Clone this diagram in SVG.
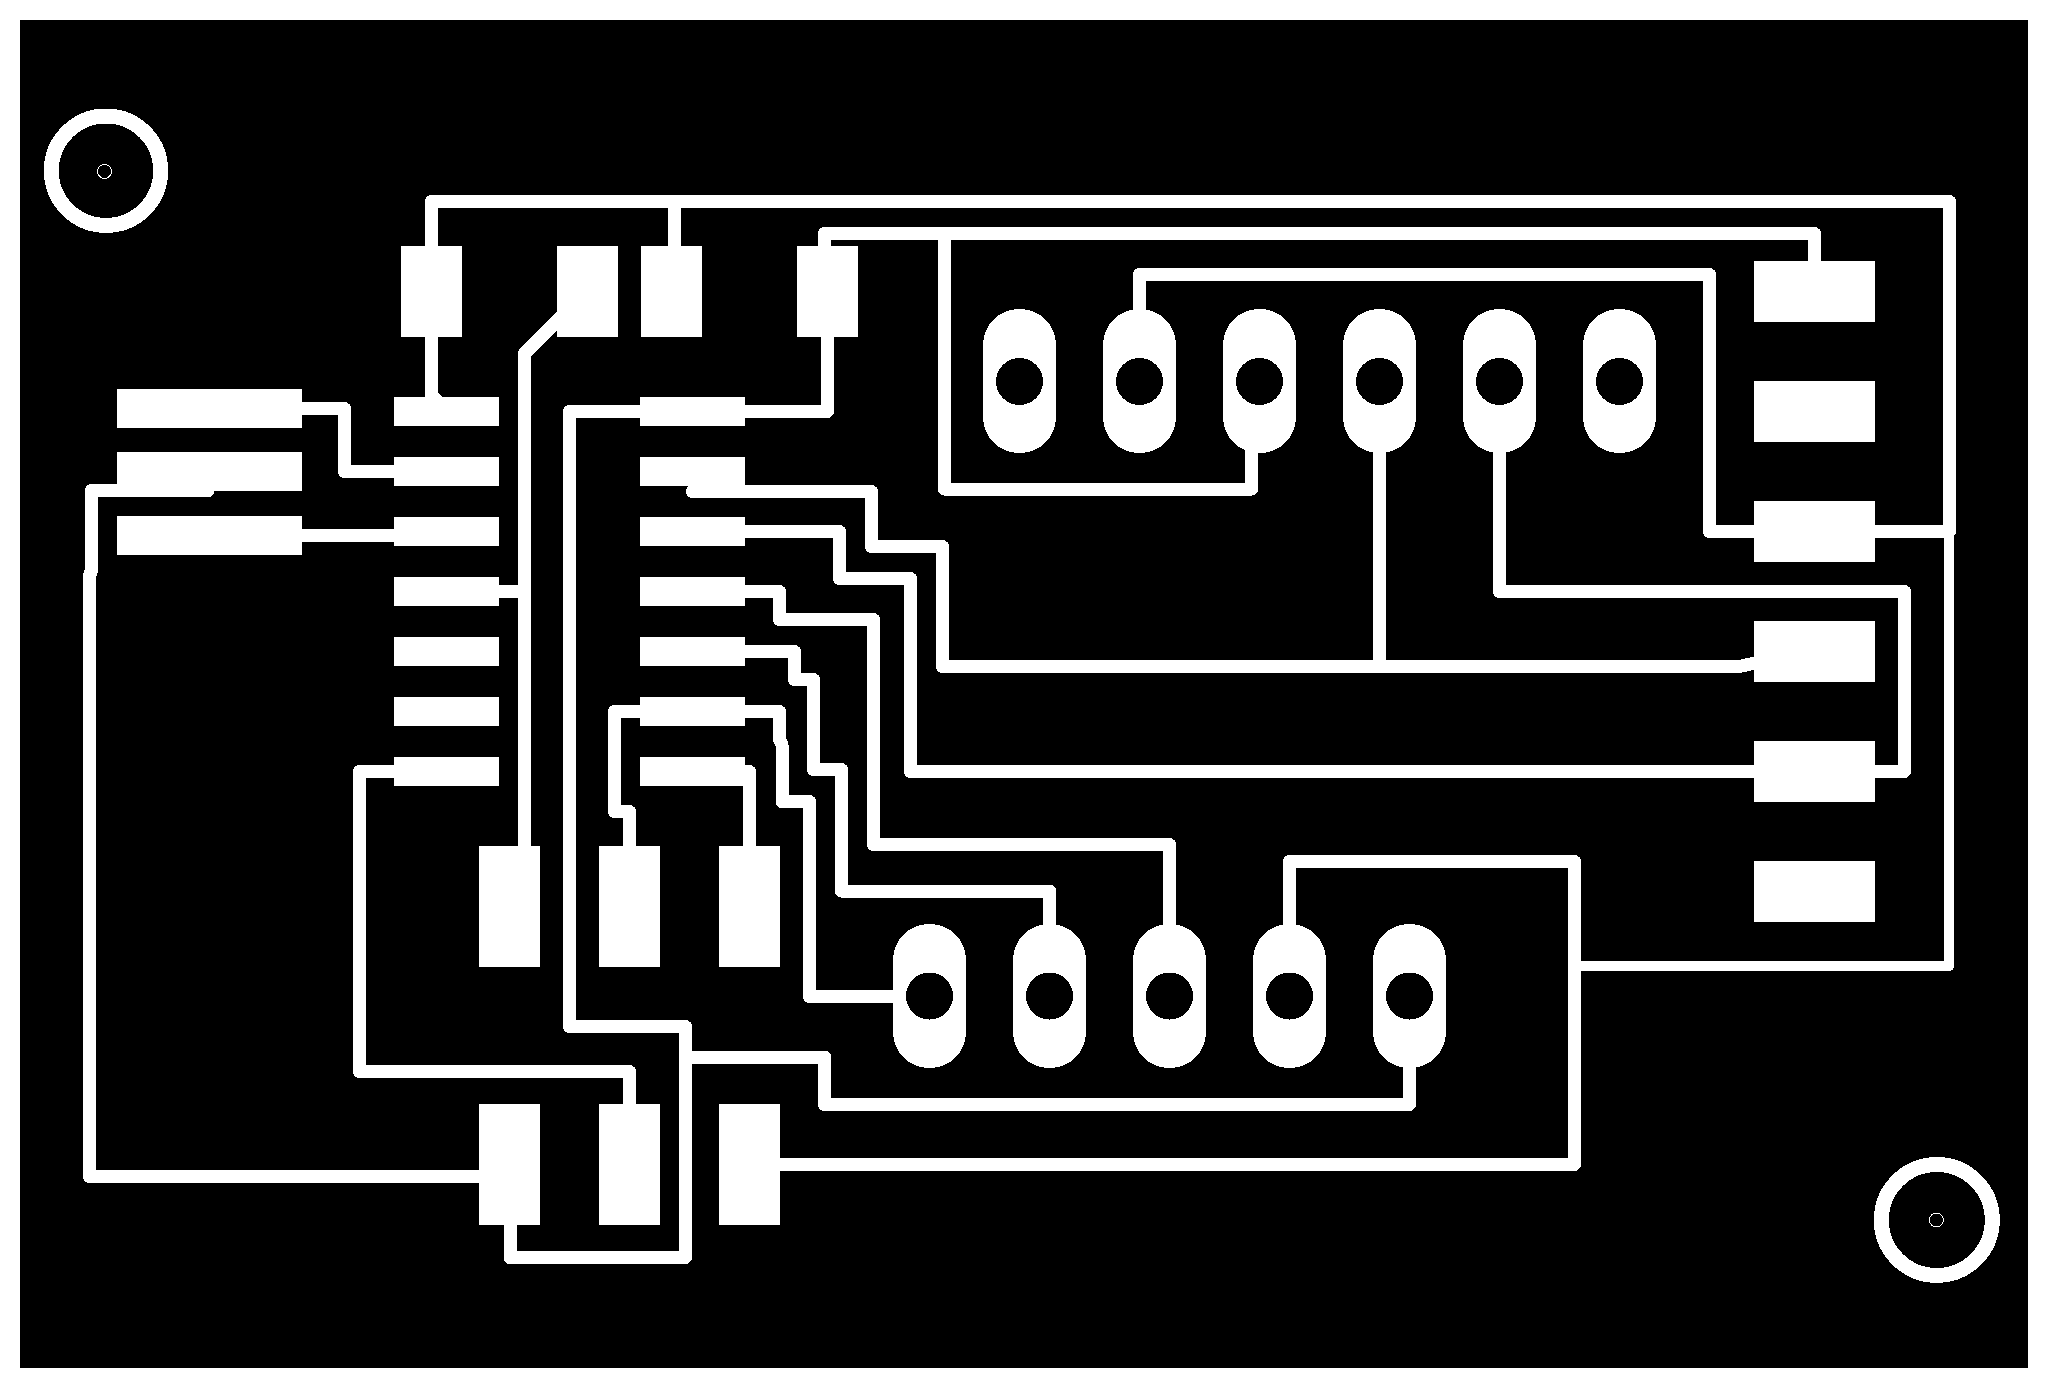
<svg xmlns="http://www.w3.org/2000/svg" width="2048" height="1388" viewBox="0 0 2048 1388" shape-rendering="crispEdges">
<style>
.p{fill:#fff;stroke:none}
.h{fill:#000;stroke:none}
.t{fill:none;stroke:#fff;stroke-width:13;stroke-linejoin:round;stroke-linecap:round}
.n{stroke-width:10}
.ring{fill:none;stroke:#fff;stroke-width:15}
.drill{fill:none;stroke:#fff;stroke-width:1}
</style>
<defs>
<rect id="oval" x="-36.5" y="-72" width="73" height="144" rx="36" ry="36" class="p"/>
<circle id="hole" r="23.5" class="h"/>
<rect id="v" width="61" height="91" class="p"/>
<rect id="w" width="61" height="121" class="p"/>
<rect id="r" width="121" height="61" class="p"/>
<rect id="l" width="185" height="39" class="p"/>
<rect id="s" width="105" height="29" class="p"/>
</defs>
<rect width="2048" height="1388" fill="#fff"/>
<rect id="board" x="20" y="20" width="2008" height="1348" fill="#000"/>
<g id="connectors">
<polyline class="t" points="431.5,252 431.5,201.5 1949.5,201.5 1949.5,531.5 1868,531.5"/>
<polyline class="t" points="674.5,201.5 674.5,252"/>
<polyline class="t" points="431.5,330 431.5,403"/>
<polygon class="p" points="437,392 442,397 437,398"/>
<polyline class="t" points="565,313 524.5,353.5 524.5,852"/>
<polyline class="t" points="492,591.5 524.5,591.5"/>
<polyline class="t" points="295,408.5 344.5,408.5 344.5,471.5 401,471.5"/>
<polyline class="t" points="295,535.5 401,535.5"/>
<polyline class="t" points="208,490.5 91.5,490.5 91.5,570 89.5,576 89.5,1176.5 486,1176.5"/>
<polyline class="t" points="401,771.5 359.5,771.5 359.5,1071.5 629.5,1071.5 629.5,1110"/>
<polyline class="t" points="510,1219 510,1257.5 685.5,1257.5 685.5,1026.5 569.5,1026.5 569.5,411.5 647,411.5"/>
<polyline class="t" points="738,411.5 827.5,411.5 827.5,330"/>
<polyline class="t" points="685.5,1057 824.5,1057 824.5,1104.5 1409.5,1104.5 1409.5,1060"/>
<polyline class="t" points="824.5,252 824.5,233.5 1814.5,233.5 1814.5,268"/>
<polyline class="t" points="944.5,233.5 944.5,489 1251.5,489 1251.5,445"/>
<polyline class="t" points="1139.5,316 1139.5,274.5 1709.5,274.5 1709.5,531.5 1761,531.5"/>
<polyline class="t" points="1379.5,445 1379.5,666.5"/>
<polyline class="t" points="692.5,491.5 871.5,491.5 871.5,546.5 942.5,546.5 942.5,666.5 1739,666.5 1760,662"/>
<polyline class="t" points="738,531.5 839.5,531.5 839.5,578.5 910.5,578.5 910.5,771.5 1760,771.5"/>
<polyline class="t" points="1868,771.5 1904.5,771.5 1904.5,591.5 1499.5,591.5 1499.5,445"/>
<polyline class="t" points="738,591.5 779.5,591.5 779.5,619.5 873.5,619.5 873.5,844.5 1169.5,844.5 1169.5,932"/>
<polyline class="t" points="738,651.5 794.5,651.5 794.5,679.5 813.5,679.5 813.5,769.5 841.5,769.5 841.5,891 1049.5,891 1049.5,932"/>
<polyline class="t" points="738,711.5 779.5,711.5 779.5,739 782,745 782,801.5 809.5,801.5 809.5,996.5 900,996.5"/>
<polyline class="t" points="647,711.5 614.5,711.5 614.5,811.5 629.5,811.5 629.5,852"/>
<polyline class="t" points="738,771.5 749.5,771.5 749.5,852"/>
<polyline class="t" points="772,1164.5 1574.5,1164.5 1574.5,861.5 1289.5,861.5 1289.5,932"/>
<polyline class="t n" points="1949,531.5 1949,966 1575,966"/>
</g>
<g id="mount-1"><circle class="ring" cx="106" cy="170.7" r="54.7"/><circle class="drill" cx="104.5" cy="171.4" r="7"/></g>
<g id="mount-2"><circle class="ring" cx="1936.8" cy="1220" r="55.5"/><circle class="drill" cx="1936.4" cy="1220" r="7"/></g>
<g id="top-pads">
<use href="#v" x="401" y="246"/><use href="#v" x="557" y="246"/><use href="#v" x="641" y="246"/><use href="#v" x="797" y="246"/>
</g>
<g id="header-left">
<use href="#l" x="117" y="389"/><use href="#l" x="117" y="452"/><use href="#l" x="117" y="516"/>
</g>
<g id="ic-left">
<use href="#s" x="394" y="397"/><use href="#s" x="394" y="457"/><use href="#s" x="394" y="517"/><use href="#s" x="394" y="577"/><use href="#s" x="394" y="637"/><use href="#s" x="394" y="697"/><use href="#s" x="394" y="757"/>
</g>
<g id="ic-right">
<use href="#s" x="640" y="397"/><use href="#s" x="640" y="457"/><use href="#s" x="640" y="517"/><use href="#s" x="640" y="577"/><use href="#s" x="640" y="637"/><use href="#s" x="640" y="697"/><use href="#s" x="640" y="757"/>
</g>
<g id="right-pads">
<use href="#r" x="1754" y="261"/><use href="#r" x="1754" y="381"/><use href="#r" x="1754" y="501"/><use href="#r" x="1754" y="621"/><use href="#r" x="1754" y="741"/><use href="#r" x="1754" y="861"/>
</g>
<g id="lower-pads">
<use href="#w" x="479" y="846"/><use href="#w" x="599" y="846"/><use href="#w" x="719" y="846"/>
<use href="#w" x="479" y="1104"/><use href="#w" x="599" y="1104"/><use href="#w" x="719" y="1104"/>
</g>
<g id="connector-upper">
<use href="#oval" x="1019.5" y="381"/><use href="#hole" x="1019.5" y="381.5"/>
<use href="#oval" x="1139.5" y="381"/><use href="#hole" x="1139.5" y="381.5"/>
<use href="#oval" x="1259.5" y="381"/><use href="#hole" x="1259.5" y="381.5"/>
<use href="#oval" x="1379.5" y="381"/><use href="#hole" x="1379.5" y="381.5"/>
<use href="#oval" x="1499.5" y="381"/><use href="#hole" x="1499.5" y="381.5"/>
<use href="#oval" x="1619.5" y="381"/><use href="#hole" x="1619.5" y="381.5"/>
</g>
<g id="connector-lower">
<use href="#oval" x="929.5" y="996"/><use href="#hole" x="929.5" y="996"/>
<use href="#oval" x="1049.5" y="996"/><use href="#hole" x="1049.5" y="996"/>
<use href="#oval" x="1169.5" y="996"/><use href="#hole" x="1169.5" y="996"/>
<use href="#oval" x="1289.5" y="996"/><use href="#hole" x="1289.5" y="996"/>
<use href="#oval" x="1409.5" y="996"/><use href="#hole" x="1409.5" y="996"/>
</g>
</svg>
